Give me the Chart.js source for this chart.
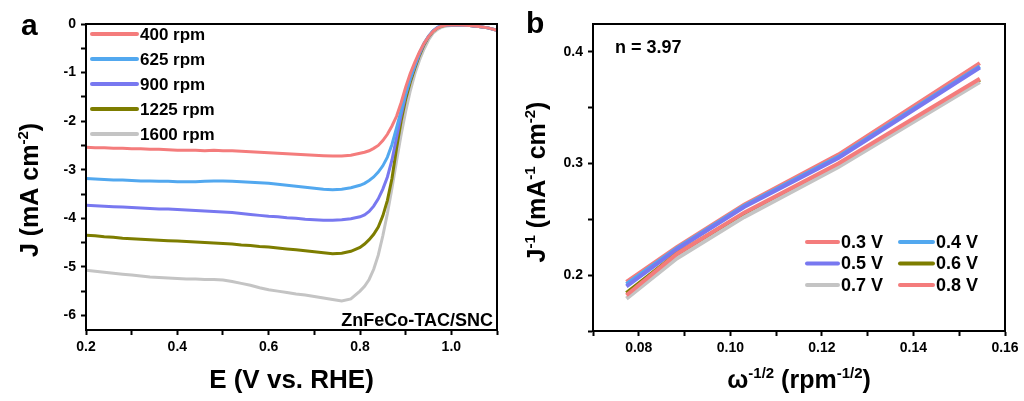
<!DOCTYPE html>
<html>
<head>
<meta charset="utf-8">
<script src="https://cdn.jsdelivr.net/npm/chart.js@4.4.0/dist/chart.umd.min.js"></script>
<style>
  html, body { margin: 0; padding: 0; background: #fff; }
  #wrap { position: relative; width: 1024px; height: 401px; overflow: hidden; }
  #chartA { position: absolute; left: 0; top: 0; }
  #chartB { position: absolute; left: 520px; top: 0; }
</style>
</head>
<body>
<div id="wrap">
  <canvas id="chartA" width="520" height="401"></canvas>
  <canvas id="chartB" width="504" height="401"></canvas>
</div>
<script>
// Panel a: LSV curves, E (V vs. RHE) against J (mA cm-2)
const potential = [
  0.20, 0.22, 0.24, 0.26, 0.28, 0.30, 0.32, 0.34, 0.36, 0.38,
  0.40, 0.42, 0.44, 0.46, 0.48, 0.50, 0.52, 0.54, 0.56, 0.58,
  0.60, 0.62, 0.64, 0.66, 0.68, 0.70, 0.72, 0.74, 0.76, 0.78,
  0.80, 0.81, 0.82, 0.83, 0.84, 0.85, 0.86, 0.87, 0.88, 0.89,
  0.90, 0.91, 0.92, 0.93, 0.94, 0.95, 0.96, 0.97, 0.98, 0.99,
  1.00, 1.02, 1.04, 1.06, 1.08, 1.10
];
const j400 = [
  -2.54, -2.55, -2.55, -2.56, -2.56, -2.57, -2.57, -2.58, -2.58, -2.59,
  -2.60, -2.60, -2.60, -2.61, -2.60, -2.61, -2.61, -2.62, -2.63, -2.64,
  -2.65, -2.66, -2.67, -2.68, -2.69, -2.70, -2.71, -2.72, -2.72, -2.70,
  -2.66, -2.64, -2.61, -2.56, -2.50, -2.40, -2.27, -2.10, -1.90, -1.62,
  -1.30, -1.02, -0.79, -0.58, -0.40, -0.26, -0.15, -0.08, -0.04, -0.02,
  -0.02, -0.02, -0.03, -0.05, -0.08, -0.13
];
const j625 = [
  -3.18, -3.19, -3.20, -3.21, -3.21, -3.22, -3.23, -3.23, -3.24, -3.24,
  -3.25, -3.25, -3.25, -3.24, -3.23, -3.23, -3.24, -3.25, -3.26, -3.27,
  -3.28, -3.30, -3.32, -3.34, -3.36, -3.38, -3.40, -3.41, -3.40, -3.37,
  -3.32, -3.28, -3.22, -3.15, -3.05, -2.92, -2.74, -2.48, -2.14, -1.78,
  -1.43, -1.12, -0.85, -0.60, -0.40, -0.25, -0.14, -0.07, -0.03, -0.02,
  -0.02, -0.02, -0.03, -0.05, -0.08, -0.13
];
const j900 = [
  -3.73, -3.74, -3.75, -3.76, -3.77, -3.78, -3.79, -3.80, -3.81, -3.81,
  -3.82, -3.83, -3.84, -3.85, -3.86, -3.87, -3.88, -3.90, -3.92, -3.94,
  -3.96, -3.97, -3.99, -4.00, -4.02, -4.03, -4.04, -4.04, -4.03, -4.01,
  -3.97, -3.93, -3.86, -3.75, -3.60, -3.40, -3.15, -2.80, -2.34, -1.88,
  -1.46, -1.14, -0.87, -0.62, -0.41, -0.26, -0.14, -0.07, -0.03, -0.02,
  -0.02, -0.02, -0.03, -0.05, -0.08, -0.13
];
const j1225 = [
  -4.35, -4.36, -4.38, -4.39, -4.41, -4.42, -4.43, -4.44, -4.45, -4.46,
  -4.47, -4.48, -4.49, -4.50, -4.51, -4.52, -4.53, -4.55, -4.56, -4.58,
  -4.59, -4.61, -4.63, -4.65, -4.67, -4.69, -4.71, -4.73, -4.72, -4.68,
  -4.60, -4.53, -4.44, -4.33, -4.18, -3.95, -3.63, -3.18, -2.56, -2.00,
  -1.55, -1.20, -0.91, -0.65, -0.43, -0.27, -0.15, -0.08, -0.04, -0.02,
  -0.02, -0.02, -0.03, -0.05, -0.08, -0.13
];
const j1600 = [
  -5.07, -5.09, -5.11, -5.13, -5.15, -5.17, -5.19, -5.21, -5.22, -5.23,
  -5.24, -5.25, -5.25, -5.26, -5.26, -5.27, -5.30, -5.34, -5.38, -5.43,
  -5.47, -5.50, -5.53, -5.56, -5.58, -5.61, -5.64, -5.67, -5.70, -5.66,
  -5.50, -5.40, -5.26, -5.05, -4.76, -4.36, -3.90, -3.38, -2.82, -2.28,
  -1.80, -1.38, -1.03, -0.75, -0.52, -0.33, -0.19, -0.11, -0.06, -0.04,
  -0.03, -0.02, -0.03, -0.05, -0.08, -0.12
];
const rpmLabels = ['400 rpm', '625 rpm', '900 rpm', '1225 rpm', '1600 rpm'];
const rpmColors = ['#f47c7c', '#52a8ef', '#7878f0', '#7d7d00', '#c4c4c4'];

// Panel b: K-L plots, omega^-1/2 against J^-1
const omegaInv = [0.0773, 0.0883, 0.1030, 0.1236, 0.1545];
const inv03 = [0.194, 0.225, 0.263, 0.308, 0.390];
const inv04 = [0.192, 0.224, 0.262, 0.306, 0.387];
const inv05 = [0.190, 0.223, 0.261, 0.305, 0.386];
const inv06 = [0.184, 0.219, 0.255, 0.299, 0.375];
const inv07 = [0.179, 0.215, 0.252, 0.297, 0.373];
const inv08 = [0.182, 0.219, 0.256, 0.300, 0.376];
const voltLabels = ['0.3 V', '0.4 V', '0.5 V', '0.6 V', '0.7 V', '0.8 V'];
const voltColors = ['#f47c7c', '#52a8ef', '#7878f0', '#7d7d00', '#c4c4c4', '#f47c7c'];

const FONT = '"Liberation Sans", Arial, sans-serif';
Chart.defaults.font.family = FONT;
Chart.defaults.color = '#000';

function pts(xs, ys) {
  return xs.map((x, i) => ({ x: x, y: ys[i] }));
}

// text with superscripts, parts = [[text, isSup], ...], centred on x
function drawRich(ctx, parts, x, y, size, rotate) {
  ctx.save();
  ctx.translate(x, y);
  if (rotate) ctx.rotate(-Math.PI / 2);
  const big = 'bold ' + size + 'px ' + FONT;
  const small = 'bold ' + Math.round(size * 0.6) + 'px ' + FONT;
  let w = 0;
  parts.forEach(p => { ctx.font = p[1] ? small : big; w += ctx.measureText(p[0]).width; });
  let cx = -w / 2;
  ctx.fillStyle = '#000';
  ctx.textAlign = 'left';
  ctx.textBaseline = 'alphabetic';
  parts.forEach(p => {
    ctx.font = p[1] ? small : big;
    ctx.fillText(p[0], cx, p[1] ? -size * 0.42 : 0);
    cx += ctx.measureText(p[0]).width;
  });
  ctx.restore();
}

function frame(chart) {
  const a = chart.chartArea;
  const ctx = chart.ctx;
  ctx.save();
  ctx.strokeStyle = '#000';
  ctx.lineWidth = 2;
  ctx.strokeRect(a.left, a.top, a.right - a.left, a.bottom - a.top);
  ctx.restore();
}

function text(ctx, s, x, y, size, align) {
  ctx.save();
  ctx.font = 'bold ' + size + 'px ' + FONT;
  ctx.fillStyle = '#000';
  ctx.textAlign = align || 'left';
  ctx.textBaseline = 'alphabetic';
  ctx.fillText(s, x, y);
  ctx.restore();
}

function legendItem(ctx, color, label, x1, x2, y, tx, size) {
  ctx.save();
  ctx.strokeStyle = color;
  ctx.lineWidth = 4;
  ctx.lineCap = 'round';
  ctx.beginPath();
  ctx.moveTo(x1, y);
  ctx.lineTo(x2, y);
  ctx.stroke();
  ctx.font = 'bold ' + size + 'px ' + FONT;
  ctx.fillStyle = '#000';
  ctx.textBaseline = 'middle';
  ctx.fillText(label, tx, y + 1);
  ctx.restore();
}

const decoA = {
  id: 'decoA',
  afterDraw(chart) {
    const ctx = chart.ctx;
    const a = chart.chartArea;
    frame(chart);
    drawRich(ctx, [['E (V vs. RHE)', false]], (a.left + a.right) / 2, 388, 26);
    drawRich(ctx, [['J (mA cm', false], ['-2', true], [')', false]], 38, 190, 25, true);
    text(ctx, 'a', 21, 35, 30);
    text(ctx, 'ZnFeCo-TAC/SNC', 493, 326, 18, 'right');
    chart.data.datasets.forEach((d, i) => {
      legendItem(ctx, d.borderColor, d.label, 92, 137, 34 + 25 * i, 140, 17);
    });
  }
};

const decoB = {
  id: 'decoB',
  afterDraw(chart) {
    const ctx = chart.ctx;
    const a = chart.chartArea;
    frame(chart);
    drawRich(ctx, [['ω', false], ['-1/2', true], [' (rpm', false], ['-1/2', true], [')', false]],
      (a.left + a.right) / 2, 388, 25);
    drawRich(ctx, [['J', false], ['-1', true], [' (mA', false], ['-1', true], [' cm', false], ['-2', true], [')', false]],
      25, 182, 25, true);
    text(ctx, 'b', 6, 33, 30);
    text(ctx, 'n = 3.97', 95, 53, 18);
    const cols = [[287, 318, 321], [380, 413, 416]];
    const rows = [242, 263.5, 285];
    chart.data.datasets.forEach((d, i) => {
      const c = cols[i % 2];
      legendItem(ctx, d.borderColor, d.label, c[0], c[1], rows[Math.floor(i / 2)], c[2], 18);
    });
  }
};

function axisGrid() {
  return {
    display: true,
    drawOnChartArea: false,
    drawTicks: true,
    tickLength: 5,
    tickWidth: 2,
    tickColor: '#000'
  };
}

const tickFont = { size: 14, weight: 'bold' };

new Chart(document.getElementById('chartA'), {
  type: 'line',
  data: {
    datasets: [j400, j625, j900, j1225, j1600].map((ys, i) => ({
      label: rpmLabels[i],
      data: pts(potential, ys),
      borderColor: rpmColors[i],
      borderWidth: 3,
      pointRadius: 0,
      tension: 0,
      fill: false
    }))
  },
  options: {
    responsive: false,
    animation: false,
    layout: { padding: { left: 0, top: 24, right: 23, bottom: 0 } },
    plugins: { legend: { display: false }, tooltip: { enabled: false } },
    scales: {
      x: {
        type: 'linear',
        min: 0.2,
        max: 1.1,
        afterFit: s => { s.height = 71; },
        border: { color: '#000', width: 2 },
        grid: axisGrid(),
        ticks: {
          stepSize: 0.1,
          autoSkip: false,
          maxRotation: 0,
          padding: 4,
          font: tickFont,
          callback: v => (Math.round(v * 10) % 2 === 0 ? v.toFixed(1) : '')
        }
      },
      y: {
        type: 'linear',
        min: -6.3,
        max: 0,
        afterFit: s => { s.width = 86; },
        border: { color: '#000', width: 2 },
        grid: axisGrid(),
        ticks: {
          stepSize: 0.5,
          includeBounds: false,
          autoSkip: false,
          padding: 5,
          font: tickFont,
          callback: v => (Math.abs(v - Math.round(v)) < 1e-6 ? String(Math.round(v)) : '')
        }
      }
    }
  },
  plugins: [decoA]
});

new Chart(document.getElementById('chartB'), {
  type: 'line',
  data: {
    datasets: [inv03, inv04, inv05, inv06, inv07, inv08].map((ys, i) => ({
      label: voltLabels[i],
      data: pts(omegaInv, ys),
      borderColor: voltColors[i],
      borderWidth: 4,
      pointRadius: 0,
      tension: 0,
      fill: false,
      order: 5 - i
    }))
  },
  options: {
    responsive: false,
    animation: false,
    layout: { padding: { left: 0, top: 24, right: 19, bottom: 0 } },
    plugins: { legend: { display: false }, tooltip: { enabled: false } },
    scales: {
      x: {
        type: 'linear',
        min: 0.07,
        max: 0.16,
        afterFit: s => { s.height = 70; },
        border: { color: '#000', width: 2 },
        grid: axisGrid(),
        ticks: {
          stepSize: 0.01,
          autoSkip: false,
          maxRotation: 0,
          padding: 4,
          font: tickFont,
          callback: v => (Math.round(v * 100) % 2 === 0 ? v.toFixed(2) : '')
        }
      },
      y: {
        type: 'linear',
        min: 0.15,
        max: 0.425,
        afterFit: s => { s.width = 73; },
        border: { color: '#000', width: 2 },
        grid: axisGrid(),
        ticks: {
          stepSize: 0.05,
          includeBounds: false,
          autoSkip: false,
          padding: 5,
          font: tickFont,
          callback: v => (Math.round(v * 100) % 10 === 0 ? v.toFixed(1) : '')
        }
      }
    }
  },
  plugins: [decoB]
});
</script>
</body>
</html>
